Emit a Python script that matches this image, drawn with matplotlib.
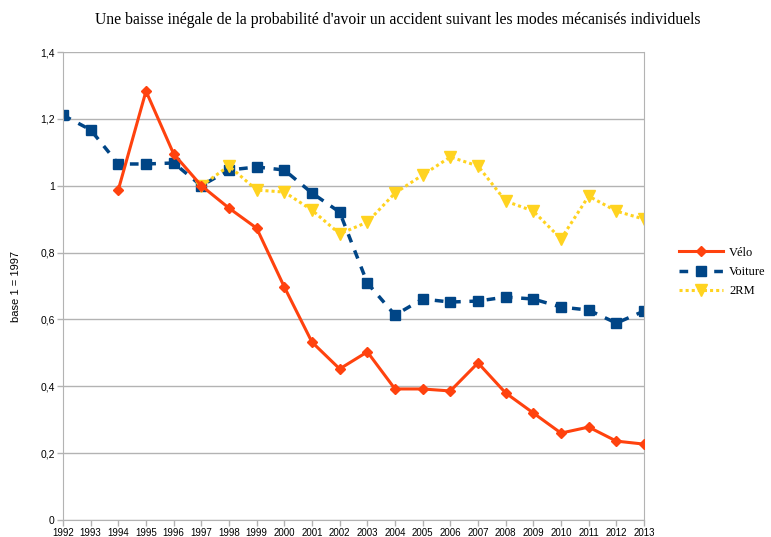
import numpy as np
import matplotlib
matplotlib.use('Agg')
import matplotlib.pyplot as plt

years = list(range(1992, 2014))

velo_years = list(range(1994, 2014))
velo = [0.988, 1.283, 1.095, 1.0, 0.933, 0.873, 0.697, 0.532, 0.452, 0.503,
        0.392, 0.392, 0.386, 0.470, 0.380, 0.320, 0.260, 0.278, 0.236, 0.227]

voiture = [1.211, 1.167, 1.065, 1.065, 1.068, 1.0, 1.047, 1.056, 1.047, 0.978,
           0.921, 0.709, 0.613, 0.661, 0.652, 0.655, 0.667, 0.661, 0.637, 0.628,
           0.589, 0.625]

rm_years = list(range(1997, 2014))
rm = [1.0, 1.059, 0.987, 0.981, 0.927, 0.856, 0.891, 0.978, 1.032, 1.086,
      1.059, 0.954, 0.924, 0.841, 0.969, 0.924, 0.900]

yticks = [0, 0.2, 0.4, 0.6, 0.8, 1.0, 1.2, 1.4]
ytick_labels = ['0', '0,2', '0,4', '0,6', '0,8', '1', '1,2', '1,4']

fig = plt.figure(figsize=(7.71, 5.37), dpi=100)
ax = fig.add_axes([63/771, 1 - 520/537, (644-63)/771, (520-52)/537])

ax.plot(velo_years, velo, color='#FF420E', lw=2.2, marker='D', ms=5,
        label='Vélo', zorder=3)
ax.plot(years, voiture, color='#004586', lw=2.5, ls=(0, (2.5, 2.5)), marker='s',
        ms=7, label='Voiture', zorder=2)
ax.plot(rm_years, rm, color='#FFD320', lw=2.2, ls=(0, (1, 1)), marker='v',
        ms=8, label='2RM', zorder=2)

ax.set_xlim(1992, 2013)
ax.set_ylim(0, 1.4)
ax.set_xticks(years)
ax.set_xticklabels([str(y) for y in years], fontsize=7, family='Liberation Sans')
ax.set_yticks(yticks)
ax.set_yticklabels(ytick_labels, fontsize=7.5, family='Liberation Sans')
ax.yaxis.grid(True, color='#b3b3b3', lw=1)
ax.set_axisbelow(True)
for s in ax.spines.values():
    s.set_color('#b3b3b3')
ax.spines['top'].set_visible(False)
ax.tick_params(colors='#b3b3b3', labelcolor='black', length=4, width=1, pad=2)
ax.set_ylabel('base 1 = 1997', fontsize=8, family='Liberation Sans', labelpad=14)

fig.text(398/771, 1 - 20/537, "Une baisse inégale de la probabilité d'avoir un accident suivant les modes mécanisés individuels",
         ha='center', va='center', fontsize=11.3, family='Liberation Serif')

leg = fig.legend(loc='center left', bbox_to_anchor=(668/771, 1 - 272/537),
                 frameon=False, prop={'family': 'Liberation Serif', 'size': 9},
                 handlelength=3.5, labelspacing=0.6, handletextpad=0.5)

fig.savefig('out.png', dpi=100)
